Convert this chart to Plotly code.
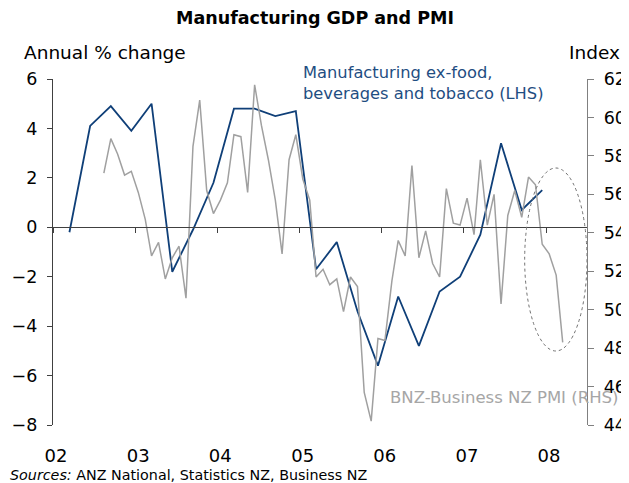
import pandas as pd
import plotly.graph_objects as go

# Manufacturing ex-food, beverages and tobacco GDP, annual % change (quarterly, Mar-2002 .. Dec-2007)
gdp_values = [-0.2, 4.1, 4.9, 3.9, 5.0, -1.8, -0.1, 1.8,
              4.8, 4.8, 4.5, 4.7, -1.7, -0.6, -3.4, -5.6,
              -2.8, -4.8, -2.6, -2.0, -0.3, 3.4, 0.7, 1.5]

# BNZ-Business NZ PMI index (monthly, Aug-2002 .. Mar-2008)
pmi_values = [57.1, 58.9, 58.1, 57.0, 57.2, 56.1, 54.7, 52.8, 53.5, 51.6, 52.7, 53.3,
              50.6, 58.5, 60.9, 56.2, 55.0, 55.7, 56.6, 59.1, 59.0, 56.1, 61.7, 59.6,
              57.8, 55.7, 52.9, 57.8, 59.1, 56.8, 55.7, 51.7, 52.1, 51.3, 51.6, 49.9,
              51.7, 51.2, 45.7, 44.2, 48.5, 48.4, 51.5, 53.6, 52.8, 57.5, 52.7, 54.1,
              52.4, 51.7, 56.3, 54.5, 54.4, 55.8, 53.9, 57.8, 54.4, 56.0, 50.3, 54.9,
              56.2, 54.8, 56.9, 56.5, 53.4, 52.9, 51.8, 48.3]

year_ticks = ["2002-01-01", "2003-01-01", "2004-01-01", "2005-01-01",
              "2006-01-01", "2007-01-01", "2008-01-01"]
year_labels = ["02", "03", "04", "05", "06", "07", "08"]

gdp_dates = [d + pd.Timedelta(days=14) for d in
             pd.date_range("2002-03-01", periods=len(gdp_values), freq="3MS")]
pmi_dates = [d + pd.Timedelta(days=14) for d in
             pd.date_range("2002-08-01", periods=len(pmi_values), freq="MS")]

FONT = "DejaVu Sans"
BLUE = "#0f3f78"
GREY = "#a0a0a0"
XR = ["2002-01-01", "2008-07-01"]

# page body adds an 8px offset; figure is sized so the plot lands where the reference has it
OFF = 8
FW, FH = 629 - OFF, 483 - OFF
ML, MR, MT, MB = 53 - OFF, 42, 79 - OFF, 58

fig = go.Figure()
fig.add_trace(go.Scatter(x=gdp_dates, y=gdp_values, mode="lines",
                         line=dict(color=BLUE, width=1.8),
                         xaxis="x", yaxis="y", showlegend=False, hoverinfo="skip"))
fig.add_trace(go.Scatter(x=pmi_dates, y=pmi_values, mode="lines",
                         line=dict(color=GREY, width=1.5),
                         xaxis="x2", yaxis="y2", showlegend=False, hoverinfo="skip"))

fig.update_layout(
    width=FW, height=FH,
    margin=dict(l=ML, r=MR, t=MT, b=MB, autoexpand=False),
    paper_bgcolor="white", plot_bgcolor="white",
    font=dict(family=FONT, size=16, color="black"),
    title=dict(text="<b>Manufacturing GDP and PMI</b>", x=(315 - OFF) / FW,
               xref="container", xanchor="center", y=1 - (18 - OFF) / FH,
               yref="container", yanchor="middle",
               font=dict(family=FONT, size=17.5, color="black")),
    xaxis=dict(range=XR, type="date", anchor="free", position=8 / 14,
               showline=True, linecolor="#404040", linewidth=1.3,
               ticks="outside", ticklen=5, tickcolor="#404040",
               tickvals=year_ticks, showticklabels=False,
               showgrid=False, zeroline=False),
    xaxis2=dict(range=XR, type="date", overlaying="x", anchor="y", side="bottom",
                showline=False, ticks="outside", ticklen=14,
                tickcolor="rgba(0,0,0,0)", tickvals=year_ticks, ticktext=year_labels,
                ticklabelshift=3, tickfont=dict(size=18),
                showgrid=False, zeroline=False, automargin=False),
    yaxis=dict(range=[-8, 6], dtick=2, tick0=0, showline=True, linecolor="#404040",
               linewidth=1.3, ticks="outside", ticklen=5, tickcolor="#404040",
               ticklabelstandoff=6, showgrid=False, zeroline=False,
               tickfont=dict(size=17.5), automargin=False),
    yaxis2=dict(range=[44, 62], dtick=2, tick0=44, overlaying="y", side="right",
                anchor="x", showline=True, linecolor="#808080", linewidth=1.3,
                ticks="outside", ticklen=6, tickcolor="#808080",
                ticklabelstandoff=6, showgrid=False, zeroline=False,
                tickfont=dict(size=17.5), automargin=False),
)

W = 587 - 53
H = 425 - 79


def px(xp):
    return (xp - 53) / W


def py(yp):
    return (425 - yp) / H


ann = [
    dict(text="Annual % change", x=px(22), y=py(52), xanchor="left", yanchor="middle",
         font=dict(size=18.5, color="black")),
    dict(text="Index", x=px(622), y=py(52), xanchor="right", yanchor="middle",
         font=dict(size=18.5, color="black")),
    dict(text="Manufacturing ex-food,<br>beverages and tobacco (LHS)", x=px(301),
         y=py(83), xanchor="left", yanchor="middle", align="left",
         font=dict(size=16.3, color="#1f4e82")),
    dict(text="BNZ-Business NZ PMI (RHS)", x=px(388), y=py(397), xanchor="left",
         yanchor="middle", font=dict(size=16.5, color="#a6a6a6")),
    dict(text="<i>Sources:</i> ANZ National, Statistics NZ, Business NZ", x=px(8),
         y=py(475), xanchor="left", yanchor="middle", font=dict(size=14.3, color="black")),
]
for a in ann:
    fig.add_annotation(xref="paper", yref="paper", showarrow=False, **a)

fig.add_shape(type="circle", xref="x", yref="paper",
              x0="2007-09-28", x1="2008-07-01", y0=py(351), y1=py(168),
              line=dict(color="#707070", width=1, dash="dot"))

fig.write_html("out.html")
